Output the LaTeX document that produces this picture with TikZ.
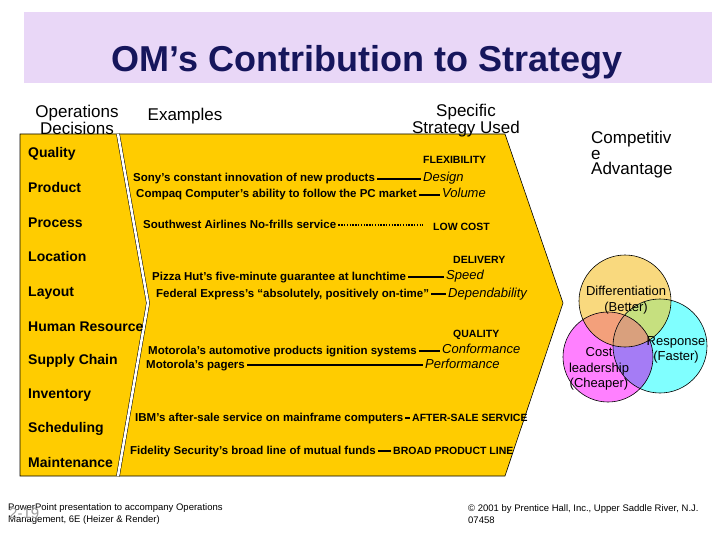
\documentclass[tikz,border=0pt]{standalone}
\usepackage{fontspec}
\setmainfont{Liberation Sans}
\usepackage{tikz}
\usetikzlibrary{positioning}
\definecolor{omyellow}{HTML}{FFCC00}
\definecolor{titlelilac}{HTML}{E9D7F7}
\definecolor{titlenavy}{HTML}{16165C}
\definecolor{vennyellow}{HTML}{F9D97E}
\definecolor{vennmagenta}{HTML}{FF80FF}
\definecolor{venncyan}{HTML}{80FFFF}
\definecolor{vennorange}{HTML}{F3A07B}
\definecolor{venngreen}{HTML}{C6E07F}
\definecolor{vennpurple}{HTML}{A57CF5}
\definecolor{venntan}{HTML}{D9A07D}
\definecolor{slidegray}{HTML}{9A9A9A}
\tikzset{
  slidetitle/.style={
    font=\fontsize{36}{40}\selectfont\bfseries,
    text=titlenavy,
    inner sep=0pt
  },
  colhead/.style={
    font=\fontsize{17}{15.5}\selectfont,
    align=center,
    inner sep=0pt
  },
  opsdecision/.style={
    anchor=base west,
    font=\fontsize{14}{16}\selectfont\bfseries,
    inner sep=0pt
  },
  exampletext/.style={
    anchor=base west,
    font=\fontsize{11.5}{13}\selectfont\bfseries,
    inner sep=0pt
  },
  strategytext/.style={
    anchor=base west,
    font=\fontsize{13}{15}\selectfont\itshape,
    inner sep=0pt
  },
  strategycat/.style={
    anchor=base west,
    font=\fontsize{10.5}{12}\selectfont\bfseries,
    inner sep=0pt
  },
  venntext/.style={
    font=\fontsize{13}{15.5}\selectfont,
    align=center,
    inner sep=0pt
  },
  slidefoot/.style={
    anchor=west,
    font=\fontsize{9.5}{12}\selectfont,
    align=left,
    inner sep=0pt
  },
  separator/.style={
    draw=black,
    line width=0.5pt,
    double=white,
    double distance=2.6pt
  },
  linkline/.style={
    line width=1.6pt,
    shorten <=2pt,
    shorten >=2pt
  },
  dotlink/.style={
    line width=1.4pt,
    dash pattern=on 1.4pt off 1.4pt,
    shorten <=2pt,
    shorten >=10pt
  },
  venncircle/.style={
    draw=black,
    line width=0.6pt
  }
}
\begin{document}
\begin{tikzpicture}[x=1pt,y=-1pt]
    \useasboundingbox (0,0) rectangle (720,540);

    % title bar
    \fill[titlelilac] (24,12) rectangle (712,83);
    \node[slidetitle, anchor=base] (title) at (367,72) {OM’s Contribution to Strategy};

    % yellow panel and separator
    \draw[fill=omyellow, line width=0.6pt]
        (20,134) -- (505,134) -- (563,303) -- (505,476) -- (20,476) -- cycle;
    \draw[separator] (118,134) -- (148,303) -- (118,476);

    % column headers
    \node[colhead] (opsdec) at (77,120) {Operations\\Decisions};
    \node[colhead] (examples) at (185,116) {Examples};
    \node[colhead] (specific) at (466,121) {Specific\\Strategy Used};
    \node[colhead, align=left, anchor=west] (compadv) at (591,155) {Competitiv\\e\\Advantage};

    % operations decisions
    \node[opsdecision] (quality)   at (28,158) {Quality};
    \node[opsdecision] (product)   at (28,193) {Product};
    \node[opsdecision] (process)   at (28,227) {Process};
    \node[opsdecision] (location)  at (28,261) {Location};
    \node[opsdecision] (layout)    at (28,296) {Layout};
    \node[opsdecision] (humanres)  at (28,331) {Human Resource};
    \node[opsdecision] (supply)    at (28,364) {Supply Chain};
    \node[opsdecision] (inventory) at (28,398) {Inventory};
    \node[opsdecision] (schedule)  at (28,432) {Scheduling};
    \node[opsdecision] (maintain)  at (28,467) {Maintenance};

    % examples
    \node[exampletext] (sony)      at (133,182) {Sony’s constant innovation of new products};
    \node[exampletext] (compaq)    at (136,198) {Compaq Computer’s ability to follow the PC market};
    \node[exampletext] (southwest) at (143,229) {Southwest Airlines No-frills service};
    \node[exampletext] (pizzahut)  at (152,280) {Pizza Hut’s five-minute guarantee at lunchtime};
    \node[exampletext] (fedex)     at (156,297) {Federal Express’s “absolutely, positively on-time”};
    \node[exampletext] (ignition)  at (148,354) {Motorola’s automotive products ignition systems};
    \node[exampletext] (pagers)    at (146,368) {Motorola’s pagers};
    \node[exampletext] (ibm)       at (135,421) {IBM’s after-sale service on mainframe computers};
    \node[exampletext] (fidelity)  at (130,454) {Fidelity Security’s broad line of mutual funds};

    % strategies
    \node[strategycat]  (flexibility) at (423,164) {FLEXIBILITY};
    \node[strategytext] (design)      at (423,182) {Design};
    \node[strategytext] (volume)      at (442,198) {Volume};
    \node[strategycat]  (lowcost)     at (433,230) {LOW COST};
    \node[strategycat]  (delivery)    at (453,263) {DELIVERY};
    \node[strategytext] (speed)       at (446,279) {Speed};
    \node[strategytext] (depend)      at (448,297) {Dependability};
    \node[strategycat]  (qualitycat)  at (453,337) {QUALITY};
    \node[strategytext] (conform)     at (442,353) {Conformance};
    \node[strategytext] (perform)     at (425,368) {Performance};
    \node[strategycat]  (aftersale)   at (412,421) {AFTER-SALE SERVICE};
    \node[strategycat]  (broadline)   at (393,454) {BROAD PRODUCT LINE};

    % links
    \draw[linkline] (sony.east) -- (design.west |- sony.east);
    \draw[linkline] (compaq.east) -- (volume.west |- compaq.east);
    \draw[dotlink] (southwest.east) -- (lowcost.west |- southwest.east);
    \draw[linkline] (pizzahut.east) -- (speed.west |- pizzahut.east);
    \draw[linkline] (fedex.east) -- (depend.west |- fedex.east);
    \draw[linkline] (ignition.east) -- (conform.west |- ignition.east);
    \draw[linkline] (pagers.east) -- (perform.west |- pagers.east);
    \draw[linkline] (ibm.east) -- (aftersale.west |- ibm.east);
    \draw[linkline] (fidelity.east) -- (broadline.west |- fidelity.east);

    % competitive advantage circles
    \coordinate (diffc) at (625,301);
    \coordinate (costc) at (608,357);
    \coordinate (respc) at (660,346);
    \fill[vennyellow]  (diffc) circle[radius=46pt];
    \fill[vennmagenta] (costc) circle[radius=45pt];
    \fill[venncyan]    (respc) circle[radius=47pt];
    \begin{scope}
        \clip (diffc) circle[radius=46pt];
        \fill[vennorange] (costc) circle[radius=45pt];
        \fill[venngreen]  (respc) circle[radius=47pt];
    \end{scope}
    \begin{scope}
        \clip (costc) circle[radius=45pt];
        \fill[vennpurple] (respc) circle[radius=47pt];
        \clip (respc) circle[radius=47pt];
        \fill[venntan] (diffc) circle[radius=46pt];
    \end{scope}
    \draw[venncircle] (diffc) circle[radius=46pt];
    \draw[venncircle] (costc) circle[radius=45pt];
    \draw[venncircle] (respc) circle[radius=47pt];
    \node[venntext] (difftext) at (626,300) {Differentiation\\(Better)};
    \node[venntext] (resptext) at (676,350) {Response\\(Faster)};
    \node[venntext] (costtext) at (599,369) {Cost\\leadership\\(Cheaper)};

    % footer
    \node[slidefoot] (source) at (8,514) {PowerPoint presentation to accompany Operations\\Management, 6E (Heizer \& Render)};
    \node[anchor=base west, inner sep=0pt, font=\fontsize{15}{17}\selectfont, text=slidegray] (slideno) at (9,518) {2-19};
    \node[slidefoot] (copyright) at (468,514) {© 2001 by Prentice Hall, Inc.,  Upper Saddle River, N.J.\\07458};
\end{tikzpicture}
\end{document}
